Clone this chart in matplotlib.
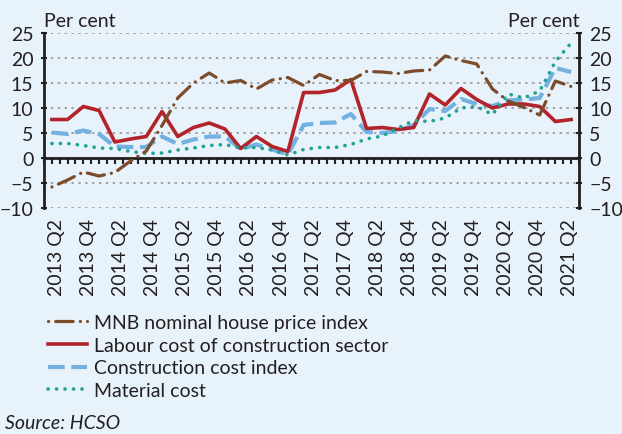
import numpy as np
import matplotlib.pyplot as plt

# quarterly data, year-on-year change in per cent
quarters = np.arange(34)
tick_labels = ['2013 Q2', '2013 Q4', '2014 Q2', '2014 Q4', '2015 Q2', '2015 Q4',
               '2016 Q2', '2016 Q4', '2017 Q2', '2017 Q4', '2018 Q2', '2018 Q4',
               '2019 Q2', '2019 Q4', '2020 Q2', '2020 Q4', '2021 Q2']
house_price = [-5.8, -4.4, -2.8, -3.6, -2.9, -0.6, 1.4, 6.5, 12.0, 15.0, 17.0, 15.0,
               15.5, 13.8, 15.6, 16.1, 14.5, 16.7, 15.5, 15.5, 17.3, 17.2, 16.9, 17.4,
               17.6, 20.4, 19.5, 18.8, 13.8, 11.4, 10.1, 8.6, 15.4, 14.3]
labour_cost = [7.7, 7.7, 10.3, 9.5, 3.2, 3.8, 4.3, 9.3, 4.3, 6.1, 7.0, 5.8,
               1.9, 4.3, 2.3, 1.3, 13.1, 13.1, 13.6, 15.7, 5.9, 6.1, 5.7, 6.1,
               12.8, 10.6, 13.9, 11.7, 10.0, 10.8, 10.8, 10.3, 7.3, 7.7]
constr_cost = [5.1, 4.8, 5.5, 4.8, 2.3, 2.2, 2.2, 4.3, 2.8, 3.7, 4.3, 4.3,
               1.8, 2.7, 1.7, 0.7, 6.6, 7.0, 7.1, 8.8, 5.2, 5.0, 5.4, 6.6,
               9.8, 9.4, 11.8, 10.8, 10.4, 11.5, 11.7, 12.0, 18.0, 17.2]
material_cost = [2.9, 2.9, 2.5, 2.0, 1.9, 1.3, 0.9, 1.0, 1.6, 2.0, 2.5, 2.7,
                 2.0, 2.1, 1.6, 0.6, 1.7, 2.1, 2.1, 2.7, 3.8, 4.4, 6.0, 7.5,
                 7.3, 8.0, 10.0, 10.3, 8.7, 12.8, 12.0, 13.4, 19.3, 23.0]

plt.rcParams['font.family'] = ['Lato', 'DejaVu Sans']
plt.rcParams['font.size'] = 14

bg = '#e8f2fa'
txt = '#231f20'
fig = plt.figure(figsize=(6.22, 4.35), dpi=100, facecolor=bg)
ax = fig.add_axes([44/622, 1-209/435, 535/622, 175/435], facecolor=bg)

# lines
l_house, = ax.plot(quarters, house_price, color='#7b4b2a', lw=2.3,
                   ls=(0, (0.05, 2.2, 5.5, 2.2)), dash_capstyle='round',
                   label='MNB nominal house price index', zorder=5)
l_lab, = ax.plot(quarters, labour_cost, color='#b3242a', lw=2.6,
                 label='Labour cost of construction sector', zorder=4)
l_con, = ax.plot(quarters, constr_cost, color='#74b0e0', lw=3.0,
                 ls=(0, (4, 1.6)), label='Construction cost index', zorder=3)
l_mat, = ax.plot(quarters, material_cost, color='#1fa396', lw=2.6,
                 ls=(0, (0.05, 2.3)), dash_capstyle='round',
                 label='Material cost', zorder=4)

ax.set_xlim(-0.5, 33.5)
ax.set_ylim(-10, 25)
ax.set_yticks(np.arange(-10, 26, 5))
for y in np.arange(-10, 26, 5):
    if y != 0:
        ax.axhline(y, color='#8a8a8a', lw=1.1, ls=(0, (1.5, 3)), zorder=1)

for s in ['top', 'bottom']:
    ax.spines[s].set_visible(False)
for s in ['left', 'right']:
    ax.spines[s].set_color(txt)
    ax.spines[s].set_linewidth(2)

ax.tick_params(axis='y', left=True, right=True, labelleft=True, labelright=True,
               direction='inout', length=5, width=1.5, colors=txt, pad=5)

# x labels every second quarter
ax.set_xticks(np.linspace(0.3, 32.9, 17))
ax.set_xticklabels(tick_labels, rotation=90, color=txt)
ax.tick_params(axis='x', length=0, pad=7)

# zero line with small ticks
zero = ax.secondary_xaxis(10/35)
zero.spines['bottom'].set_color(txt)
zero.spines['bottom'].set_linewidth(2)
zero.set_xticks(np.arange(-0.5, 33.6, 0.5))
zero.tick_params(direction='out', length=4, width=1.5, colors=txt, labelbottom=False)

ax.text(0.0, 1.02, 'Per cent', transform=ax.transAxes, ha='left', va='bottom', color=txt)
ax.text(1.0, 1.02, 'Per cent', transform=ax.transAxes, ha='right', va='bottom', color=txt)

fig.legend(handles=[l_house, l_lab, l_con, l_mat], loc='upper left',
           bbox_to_anchor=(40/622, 1-307/435), frameon=False,
           handlelength=2.0, handletextpad=0.4, labelspacing=0.3,
           borderaxespad=0, labelcolor=txt)

fig.text(5/622, 1-424/435, 'Source: HCSO', style='italic', ha='left', va='center', color=txt)

fig.savefig('out.png', dpi=100, facecolor=bg)
